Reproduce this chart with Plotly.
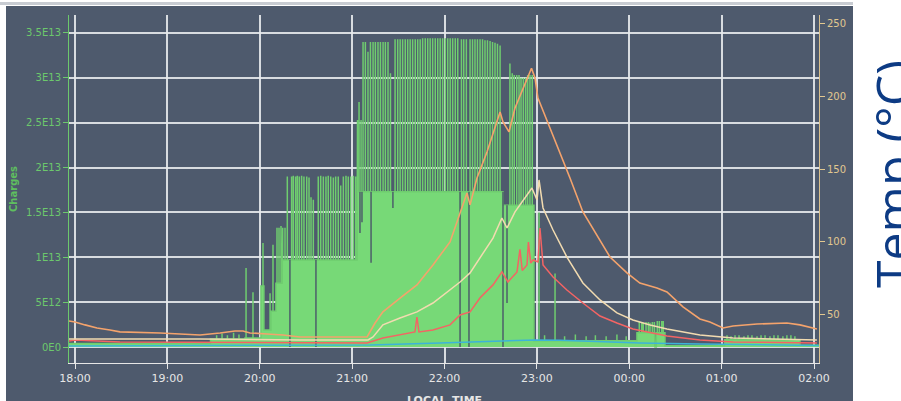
import pandas as pd
import plotly.graph_objects as go

T0 = pd.Timestamp("2021-03-01 18:00")


def at(minutes):
    return [T0 + pd.Timedelta(minutes=m) for m in minutes]


# ---------------- Charges (left axis, units of 1E12) ----------------
# stepped base level of the charge signal: minute offset from 18:00, level
base_min = [-4.0, 88.0, 110.4, 120.8, 122.7, 127.3, 130.5, 134.5, 183.2,
            278.0, 298.1, 365.0, 376.7, 377.6, 383.2, 422.0, 470.9]
base_lvl = [0.4, 0.9, 1.0, 6.8, 1.9, 4.0, 7.1, 9.7, 17.3,
            15.8, 0.7, 1.6, 0.0, 1.6, 0.15, 0.8, 0.2]
end_min = 483.5

# pulses, early ramp 19:45 - 20:13
pulse_a_min = [92.0, 95.5, 99.0, 103.0, 106.5, 111.1, 115.6, 122.1, 126.7,
               128.6, 131.2, 132.5, 133.8]
pulse_a_lvl = [1.3, 1.5, 1.3, 1.6, 1.4, 8.8, 6.1, 11.6, 6.0,
               11.4, 13.3, 13.3, 13.5]

# pulses 20:13 - 21:05
pulse_b_min = [134.9, 136.4, 137.9, 140.7, 141.8, 143.3, 144.4, 145.7, 147.2,
               148.7, 150.5, 152.0, 153.3, 154.8, 158.0, 159.6, 161.3, 163.0,
               164.5, 166.1, 167.8, 169.3, 171.0, 172.6, 174.3, 176.0, 177.5,
               179.1, 180.8, 182.3]
pulse_b_lvl = [13.3, 13.3, 19.0, 19.0, 19.1, 19.0, 19.1, 19.0, 19.1,
               19.0, 19.0, 18.9, 16.7, 16.4, 19.0, 19.1, 19.0, 19.0,
               19.1, 19.0, 18.9, 19.0, 19.0, 18.0, 19.0, 19.1, 19.0,
               19.0, 19.1, 19.0]

# pulses 21:05 - 22:35
pulse_c_min = [183.5, 184.5, 185.8, 187.1, 188.6, 190.3, 191.9, 193.6, 195.1,
               196.8, 198.4, 200.1, 201.6, 203.3, 204.9, 207.9, 209.6, 211.2,
               212.8, 214.5, 216.1, 217.7, 219.3, 221.0, 222.6, 224.2, 225.8,
               227.5, 229.1, 230.7, 232.3, 234.0, 235.6, 237.2, 238.8, 240.5,
               242.1, 243.7, 245.3, 247.0, 248.6, 251.0, 252.5, 254.2, 256.6,
               258.2, 259.8, 261.4, 263.1, 264.7, 266.3, 267.9, 269.6, 271.2,
               272.8, 274.4, 276.1]
pulse_c_lvl = [25.3, 27.3, 25.3, 34.0, 34.0, 32.9, 34.0, 34.0, 34.0,
               34.0, 34.0, 34.0, 34.0, 34.0, 30.5, 34.3, 34.3, 34.3,
               34.3, 34.3, 34.3, 34.3, 34.3, 34.3, 34.3, 34.3, 34.4,
               34.4, 34.4, 34.4, 34.4, 34.4, 34.4, 34.4, 34.4, 34.4,
               34.4, 34.4, 34.4, 34.4, 34.4, 34.3, 34.3, 34.3, 34.3,
               34.3, 34.3, 34.3, 34.3, 34.3, 34.2, 34.2, 34.1, 34.0,
               33.9, 33.8, 33.6]

# pulses 22:35 - 23:00 and afterwards
pulse_d_min = [282.5, 284.0, 285.3, 286.9, 288.4, 289.7, 291.2, 292.7, 294.0,
               295.5, 297.0, 301.4, 305.0, 311.8, 318.0, 325.0, 332.0, 338.0,
               345.0, 352.0, 358.0]
pulse_d_lvl = [31.6, 30.5, 30.3, 30.3, 30.3, 30.0, 30.0, 30.0, 30.3,
               30.3, 30.3, 15.0, 1.3, 8.2, 1.2, 1.4, 1.2, 1.3,
               1.2, 1.4, 1.2]

# pulses after midnight
pulse_e_min = [366.5, 368.1, 369.1, 370.9, 372.4, 373.5, 375.0, 376.3,
               378.2, 379.5, 381.1, 382.1,
               423.5, 426.1, 428.7, 431.3, 434.5, 437.1, 439.7, 443.0, 445.6,
               448.2, 451.4, 454.0, 456.6, 459.8, 462.4, 465.0, 467.6]
pulse_e_lvl = [2.8, 2.8, 2.7, 2.8, 2.8, 2.7, 2.8, 2.8,
               2.9, 2.9, 2.9, 2.9,
               1.3, 1.2, 1.3, 1.3, 1.2, 1.3, 1.3, 1.2, 1.3,
               1.3, 1.2, 1.3, 1.3, 1.2, 1.3, 1.3, 1.2]

# short drop-outs of the signal: time, level it falls to
drop_min = [139.6, 156.5, 185.1, 186.4, 192.3, 206.5, 250.1, 255.9, 278.0, 280.6]
drop_lvl = [0.0, 0.0, 12.7, 13.9, 9.4, 15.5, 0.0, 0.0, 0.0, 4.9]

# ---------------- Temperatures (right axis, deg C) ----------------
t_orange_min = [-3.9, 0.0, 6.5, 14.3, 22.7, 29.2, 55.2, 81.2, 94.2, 103.9, 109.1,
                113.7, 124.7, 135.1, 146.1, 189.7, 194.9, 200.0, 211.1, 222.1,
                232.5, 243.6, 248.1, 254.6, 256.6, 261.1, 267.6, 274.1, 276.1,
                278.0, 281.9, 285.8, 291.0, 296.5, 298.8, 300.7, 303.3, 308.5,
                315.0, 321.5, 329.9, 347.5, 358.5, 366.9, 378.0, 384.5, 394.9,
                405.9, 412.4, 420.9, 427.4, 443.0, 462.4, 470.9, 481.9]
t_orange_val = [45.9, 45.2, 43.2, 41.1, 39.7, 38.4, 37.7, 36.3, 37.7, 39.0, 39.0,
                37.7, 37.0, 36.3, 34.9, 34.9, 44.5, 52.1, 61.6, 70.6,
                84.3, 100.0, 113.7, 133.6, 125.4, 143.8, 161.7, 182.2, 189.1,
                182.2, 175.4, 191.8, 205.5, 219.0, 212.3, 198.6, 191.8, 178.1,
                161.7, 143.8, 120.6, 89.7, 78.8, 71.9, 68.5, 65.8, 55.5,
                47.3, 45.2, 41.1, 42.5, 43.8, 44.5, 43.2, 40.4]

t_cream_min = [-3.9, 81.2, 146.1, 190.3, 193.6, 200.0, 211.1, 222.1, 232.5,
               243.6, 250.1, 256.6, 263.0, 271.5, 277.3, 280.6, 285.8, 293.6,
               296.8, 300.1, 301.4, 304.0, 310.5, 319.5, 329.9, 341.0, 352.0,
               362.4, 373.5, 384.5, 405.9, 427.4, 449.5, 481.9]
t_cream_val = [33.6, 33.6, 32.9, 32.9, 34.9, 43.2, 47.9, 52.1, 58.2,
               67.1, 72.6, 78.8, 89.0, 102.7, 116.4, 109.6, 120.6, 132.2,
               137.0, 128.8, 142.5, 123.3, 108.2, 89.7, 71.9, 60.3, 51.4,
               46.6, 43.2, 40.4, 36.3, 34.2, 33.6, 32.9]

t_red_min = [-3.9, 0.0, 29.2, 189.7, 200.0, 211.1, 220.8, 222.1, 223.4, 232.5,
             243.6, 250.1, 256.6, 263.0, 271.5, 277.3, 281.2, 287.1, 289.0,
             290.5, 293.6, 294.5, 296.0, 297.5, 300.7, 302.0, 304.0, 310.5,
             319.5, 329.9, 341.0, 352.0, 362.4, 384.5, 405.9, 427.4, 481.9]
t_red_val = [32.2, 32.9, 31.5, 30.8, 34.2, 36.3, 38.4, 48.6, 38.4, 39.7,
             43.2, 50.0, 52.1, 61.6, 70.6, 79.5, 72.6, 79.5, 95.0,
             80.5, 84.3, 100.0, 85.5, 87.7, 86.3, 109.6, 84.3, 76.0,
             67.1, 58.2, 49.3, 44.5, 40.4, 35.6, 32.9, 31.5, 30.8]

t_cyan_min = [-3.9, 146.1, 191.6, 237.1, 276.0, 298.8, 315.0, 366.9, 405.9, 457.9, 483.2]
t_cyan_val = [28.8, 29.1, 29.5, 30.8, 32.2, 32.9, 32.6, 30.8, 30.1, 29.5, 29.1]

x_ticks_min = [0, 60, 120, 180, 240, 300, 360, 420, 480]
y_ticks = [0, 5e12, 1e13, 1.5e13, 2e13, 2.5e13, 3e13, 3.5e13]
y_ticktext = ["0E0", "5E12", "1E13", "1.5E13", "2E13", "2.5E13", "3E13", "3.5E13"]
y2_ticks = [50, 100, 150, 200, 250]

PANEL = "#4e5a6d"
GRID = "rgba(232,234,236,0.9)"
GREEN_FILL = "#77d977"
GREEN_LINE = "#6fcd6f"


def base_at(t):
    lvl = base_lvl[0]
    for bt, bl in zip(base_min, base_lvl):
        if bt <= t:
            lvl = bl
    return lvl


# assemble the charge trace from baseline steps and pulses
events = [(t, 0, v) for t, v in zip(base_min[1:], base_lvl[1:])]
for tl, vl in [(pulse_a_min, pulse_a_lvl), (pulse_b_min, pulse_b_lvl),
               (pulse_c_min, pulse_c_lvl), (pulse_d_min, pulse_d_lvl),
               (pulse_e_min, pulse_e_lvl)]:
    events += [(t, 1, v) for t, v in zip(tl, vl)]
events.sort()

cx, cy = [base_min[0]], [base_lvl[0]]
cur = base_lvl[0]
for t, kind, v in events:
    if kind == 0:
        cx += [t, t]
        cy += [cur, v]
        cur = v
    else:
        cx += [t, t, t]
        cy += [cur, v, cur]
cx.append(end_min)
cy.append(cur)

gx, gy = [], []
for t, v in zip(drop_min, drop_lvl):
    top = max(base_at(t), base_at(t - 0.01))
    gx += [T0 + pd.Timedelta(minutes=t)] * 2 + [None]
    gy += [v * 1e12, top * 1e12, None]

fig = go.Figure()
fig.add_trace(go.Scatter(
    x=at(cx), y=[v * 1e12 for v in cy], mode="lines", fill="tozeroy",
    fillcolor=GREEN_FILL, line=dict(color=GREEN_LINE, width=1.5),
    name="Charges", showlegend=False))
fig.add_trace(go.Scatter(
    x=gx, y=gy, mode="lines", line=dict(color="#4a5669", width=1.4),
    showlegend=False, connectgaps=False))

for mins, vals, col, w in [
        (t_cyan_min, t_cyan_val, "#3db4d8", 1.5),
        (t_red_min, t_red_val, "#f46464", 1.5),
        (t_cream_min, t_cream_val, "#f2dbb0", 1.5),
        (t_orange_min, t_orange_val, "#f4a36c", 1.6)]:
    fig.add_trace(go.Scatter(x=at(mins), y=vals, mode="lines", yaxis="y2",
                             line=dict(color=col, width=w), showlegend=False))

# layout geometry in pixels
W, H = 901, 401
L, R, TOP, B = 69, 82, 15, 38
pw, ph = W - L - R, H - TOP - B


def px(xp):
    return (xp - L) / pw


def py(yp):
    return (H - B - yp) / ph


fig.update_layout(
    width=W, height=H,
    margin=dict(l=L, r=R, t=TOP, b=B, pad=0),
    paper_bgcolor="white", plot_bgcolor=PANEL,
    font=dict(family="DejaVu Sans", size=10),
    xaxis=dict(
        type="date",
        range=[T0 - pd.Timedelta(minutes=3.9), T0 + pd.Timedelta(minutes=483.25)],
        tickvals=at(x_ticks_min), tickformat="%H:%M",
        tickfont=dict(color="#e6e6e6", size=11),
        ticks="outside", ticklen=5, tickcolor="#e6e6e6",
        showline=True, linecolor="#e6e6e6", linewidth=1,
        showgrid=True, gridcolor=GRID, gridwidth=1.5, zeroline=False),
    yaxis=dict(
        range=[-1.78e12, 3.70e13], tickvals=y_ticks, ticktext=y_ticktext,
        tickfont=dict(color="#6cc86c", size=10),
        ticks="outside", ticklen=5, tickcolor="#6cc86c",
        showline=True, linecolor="#6cc86c", linewidth=1,
        showgrid=True, gridcolor=GRID, gridwidth=1.5, zeroline=False),
    yaxis2=dict(
        overlaying="y", side="right", range=[17.1, 255.5], tickvals=y2_ticks,
        tickfont=dict(color="#e2c890", size=10),
        ticks="outside", ticklen=5, tickcolor="#e2c890",
        showline=True, linecolor="#d8bf8c", linewidth=1,
        showgrid=False, zeroline=False),
    shapes=[
        dict(type="rect", xref="paper", yref="paper", layer="below",
             x0=px(6), x1=px(853), y0=py(401), y1=py(6),
             fillcolor=PANEL, line=dict(width=0)),
        dict(type="rect", xref="paper", yref="paper", layer="below",
             x0=px(0), x1=px(853), y0=py(5), y1=py(2),
             fillcolor="#c8ccd2", line=dict(width=0)),
    ],
    annotations=[
        dict(text="<b>LOCAL_TIME</b>", xref="paper", yref="paper",
             x=px(444), y=py(392), xanchor="center", yanchor="top",
             showarrow=False, font=dict(color="#e6e6e6", size=11)),
        dict(text="<b>Charges</b>", xref="paper", yref="paper",
             x=px(13), y=py(189), xanchor="center", yanchor="middle",
             textangle=-90, showarrow=False,
             font=dict(color="#5fbf5f", size=10)),
        dict(text="Temp (°C)", xref="paper", yref="paper",
             x=px(893), y=py(290), xanchor="center", yanchor="bottom",
             textangle=-90, showarrow=False,
             font=dict(color="#0d3b84", size=50, family="Open Sans")),
    ],
)

fig.write_html("out.html")
